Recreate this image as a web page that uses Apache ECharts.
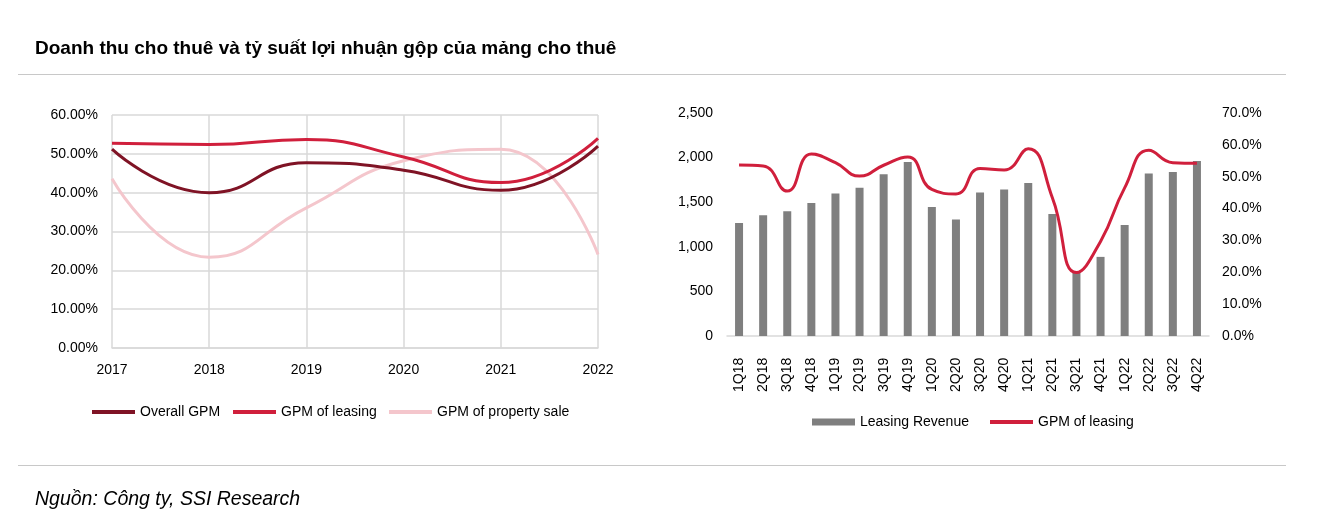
<!DOCTYPE html>
<html><head><meta charset="utf-8">
<script src="https://cdn.jsdelivr.net/npm/echarts@6/dist/echarts.min.js"></script>
<style>html,body{margin:0;padding:0;background:#fff}#c{width:1324px;height:532px}</style>
</head><body><div id="c"></div>
<script>
const years = ['2017','2018','2019','2020','2021','2022'];
const overallGPM = [51.2, 40.0, 47.7, 45.8, 40.6, 52.0];
const leasingGPMYear = [52.7, 52.4, 53.7, 49.2, 42.6, 54.0];
const propertySaleGPM = [43.6, 23.4, 36.1, 48.2, 51.2, 24.1];

const quarters = ['1Q18','2Q18','3Q18','4Q18','1Q19','2Q19','3Q19','4Q19','1Q20','2Q20','3Q20','4Q20','1Q21','2Q21','3Q21','4Q21','1Q22','2Q22','3Q22','4Q22'];
const leasingRevenue = [1267,1353,1398,1492,1598,1662,1812,1951,1447,1305,1609,1643,1714,1368,722,887,1244,1823,1838,1962];
const leasingGPMQ = [53.7,53.4,45.5,57.1,54.4,50.2,53.6,56.2,46.0,44.6,52.6,52.1,58.8,43.4,19.9,29.7,46.5,58.3,54.4,54.2];

const FONT = "'Liberation Sans Narrow','Arial Narrow','Liberation Sans',Arial,sans-serif";
const DARK = '#7f1325', RED = '#d01f3c', PINK = '#f4c6cc', GRAY = '#7f7f7f';
const chart = echarts.init(document.getElementById('c'));
const lbl = {fontFamily: FONT, fontSize: 14, color: '#000'};
function legendItem(name, left, top, h, color){
  return {data:[{name, icon:'rect'}], left, top, padding:0, itemWidth:43, itemHeight:h, itemGap:0,
    textStyle:Object.assign({}, lbl, {padding:[0,0,0,0]}), selectedMode:false};
}
chart.setOption({
  animation:false,
  title:[
    {text:'Doanh thu cho thuê và tỷ suất lợi nhuận gộp của mảng cho thuê', left:30, top:34,
     textStyle:{fontFamily:FONT, fontSize:19, fontWeight:'bold', color:'#000'}},
    {text:'Nguồn: Công ty, SSI Research', left:30, top:485,
     textStyle:{fontFamily:FONT, fontSize:19.5, fontStyle:'italic', fontWeight:'normal', color:'#000'}}
  ],
  graphic:[
    {type:'rect', shape:{x:18, y:74, width:1268, height:1}, style:{fill:'#c8c8c8'}, silent:true},
    {type:'rect', shape:{x:18, y:465, width:1268, height:1}, style:{fill:'#c8c8c8'}, silent:true}
  ],
  legend:[
    legendItem('Overall GPM', 92, 405, 4, DARK),
    legendItem('GPM of leasing', 233, 405, 4, RED),
    legendItem('GPM of property sale', 389, 405, 4, PINK),
    legendItem('Leasing Revenue', 812, 415, 7, GRAY),
    legendItem('GPM of leasing ', 990, 415, 4, RED)
  ],
  grid:[
    {left:112, top:115, width:486, height:233},
    {left:727, top:113, width:482, height:223}
  ],
  xAxis:[
    {gridIndex:0, type:'category', data:years, boundaryGap:false,
     axisLine:{lineStyle:{color:'#d9d9d9', width:1.5}}, axisTick:{show:false},
     axisLabel:Object.assign({}, lbl, {margin:15}),
     splitLine:{show:true, lineStyle:{color:'#d9d9d9', width:1.5}}},
    {gridIndex:1, type:'category', data:quarters,
     axisLine:{lineStyle:{color:'#d9d9d9', width:1.5}}, axisTick:{show:false},
     axisLabel:Object.assign({}, lbl, {rotate:90, margin:56, align:'left', verticalAlign:'middle', interval:0})}
  ],
  yAxis:[
    {gridIndex:0, type:'value', min:0, max:60, interval:10,
     axisLabel:Object.assign({}, lbl, {formatter:v=>v.toFixed(2)+'%', margin:14}),
     axisLine:{show:false}, axisTick:{show:false},
     splitLine:{lineStyle:{color:'#d9d9d9', width:1.5}}},
    {gridIndex:1, type:'value', min:0, max:2500, interval:500,
     axisLabel:Object.assign({}, lbl, {formatter:v=>v.toLocaleString('en-US'), margin:14}),
     axisLine:{show:false}, axisTick:{show:false}, splitLine:{show:false}},
    {gridIndex:1, type:'value', min:0, max:70, interval:10, position:'right',
     axisLabel:Object.assign({}, lbl, {formatter:v=>v.toFixed(1)+'%', margin:13}),
     axisLine:{show:false}, axisTick:{show:false}, splitLine:{show:false}}
  ],
  series:[
    {name:'GPM of property sale', type:'line', xAxisIndex:0, yAxisIndex:0, data:propertySaleGPM,
     smooth:0.5, showSymbol:false, lineStyle:{color:PINK, width:3}, itemStyle:{color:PINK}},
    {name:'Overall GPM', type:'line', xAxisIndex:0, yAxisIndex:0, data:overallGPM,
     smooth:0.5, showSymbol:false, lineStyle:{color:DARK, width:3}, itemStyle:{color:DARK}},
    {name:'GPM of leasing', type:'line', xAxisIndex:0, yAxisIndex:0, data:leasingGPMYear,
     smooth:0.5, showSymbol:false, lineStyle:{color:RED, width:3}, itemStyle:{color:RED}},
    {name:'Leasing Revenue', type:'bar', xAxisIndex:1, yAxisIndex:1, data:leasingRevenue,
     barWidth:8, itemStyle:{color:GRAY}},
    {name:'GPM of leasing ', type:'line', xAxisIndex:1, yAxisIndex:2, data:leasingGPMQ,
     smooth:0.5, showSymbol:false, lineStyle:{color:RED, width:3}, itemStyle:{color:RED}}
  ]
});
</script></body></html>
